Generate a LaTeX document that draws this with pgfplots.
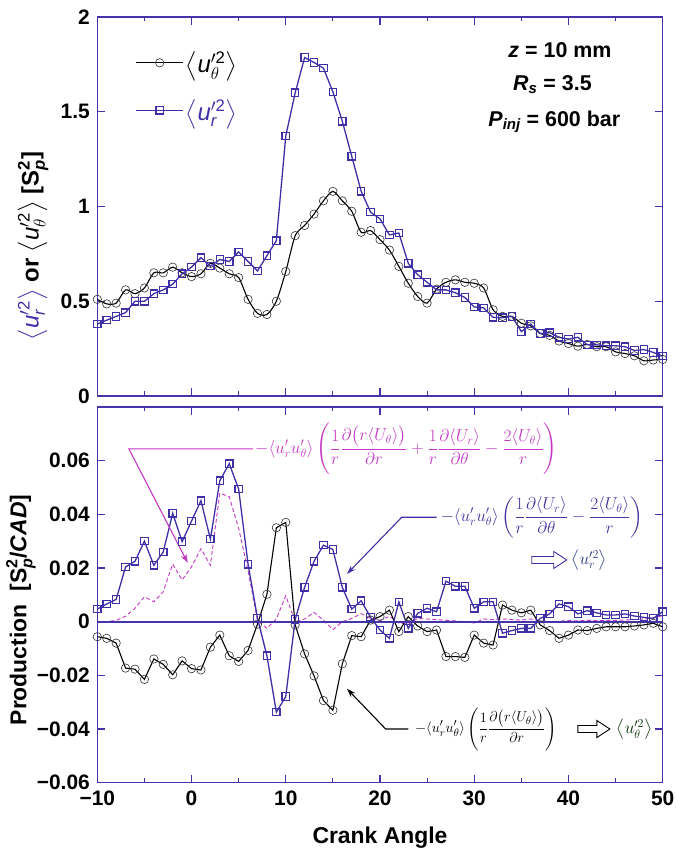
\documentclass[border=0pt]{standalone}
\usepackage{amsmath}
\usepackage[no-math]{fontspec}
\setmainfont{Liberation Sans}
\usepackage{pgfplots}
\usepackage{pgfplotstable}
\pgfplotsset{compat=1.18}
\usetikzlibrary{arrows.meta}
\definecolor{axblue}{RGB}{68,51,170}
\definecolor{sqblue}{RGB}{64,48,168}
\definecolor{mag}{RGB}{196,56,196}
\definecolor{fblue}{RGB}{70,50,160}
\definecolor{nblue}{RGB}{40,50,130}

\pgfplotstableread{
x th r
-10 0.51 0.38
-9 0.486 0.40
-8 0.49 0.42
-7 0.56 0.44
-6 0.54 0.50
-5 0.57 0.50
-4 0.65 0.54
-3 0.65 0.56
-2 0.68 0.59
-1 0.65 0.645
0 0.63 0.68
1 0.645 0.73
2 0.70 0.685
3 0.675 0.72
4 0.645 0.71
5 0.625 0.76
6 0.51 0.71
7 0.436 0.66
8 0.43 0.74
9 0.50 0.82
10 0.657 1.372
11 0.846 1.60
12 0.90 1.786
13 0.96 1.76
14 1.03 1.73
15 1.08 1.605
16 1.03 1.45
17 0.975 1.265
18 0.864 1.08
19 0.873 0.97
20 0.825 0.935
21 0.77 0.85
22 0.684 0.86
23 0.595 0.70
24 0.525 0.64
25 0.49 0.60
26 0.564 0.56
27 0.60 0.56
28 0.613 0.545
29 0.60 0.52
30 0.595 0.47
31 0.57 0.465
32 0.455 0.415
33 0.42 0.413
34 0.42 0.42
35 0.384 0.34
36 0.37 0.38
37 0.33 0.33
38 0.32 0.334
39 0.29 0.31
40 0.277 0.30
41 0.263 0.31
42 0.272 0.27
43 0.26 0.27
44 0.26 0.265
45 0.233 0.265
46 0.224 0.26
47 0.212 0.24
48 0.186 0.245
49 0.19 0.23
50 0.193 0.21
}\topdata

\pgfplotstableread{
x th r m
-10 -0.0056 0.0047 0
-9 -0.0062 0.0066 0
-8 -0.0080 0.0083 0.0005
-7 -0.0173 0.0204 0.002
-6 -0.0177 0.0225 0.005
-5 -0.0215 0.0300 0.0093
-4 -0.0139 0.0210 0.0074
-3 -0.0159 0.0260 0.0112
-2 -0.0198 0.0404 0.0215
-1 -0.0146 0.0298 0.0155
0 -0.0175 0.0375 0.0205
1 -0.0180 0.0451 0.0272
2 -0.0095 0.0308 0.0210
3 -0.0050 0.0525 0.0479
4 -0.0127 0.0589 0.0466
5 -0.0148 0.0494 0.0348
6 -0.0107 0.0214 0.0190
7 -0.0009 0.0013 0.0005
8 0.0102 -0.0127 -0.0025
9 0.0350 -0.0337 0.0010
10 0.0370 -0.0279 0.0097
11 -0.0012 0.0009 0.0000
12 -0.0120 0.0128 0.0010
13 -0.0202 0.0225 0.0035
14 -0.0294 0.0285 0.0005
15 -0.0330 0.0269 -0.0030
16 -0.0157 0.0128 0.0000
17 -0.0052 0.0047 0.0012
18 -0.0056 0.0078 0.0030
19 0.0006 0.0016 0.0012
20 0.0019 -0.0031 0.0005
21 0.0043 -0.0062 0.0020
22 -0.0037 0.0074 -0.0005
23 0.0019 -0.0025 -0.0010
24 -0.0016 0.0031 0.0012
25 -0.0037 0.0050 0.0010
26 -0.0031 0.0037 0.0008
27 -0.0130 0.0151 0.0005
28 -0.0130 0.0132 0.0003
29 -0.0133 0.0132 0.0000
30 -0.0050 0.0050 -0.0005
31 -0.0080 0.0074 0.0010
32 -0.0087 0.0074 0.0008
33 0.0062 -0.0043 0.0010
34 0.0043 -0.0033 0.0008
35 0.0033 -0.0025 0.0006
36 0.0043 -0.0025 0.0010
37 -0.0012 0.0012 0.0003
38 -0.0033 0.0029 0.0000
39 -0.0062 0.0066 0.0002
40 -0.0050 0.0056 0.0004
41 -0.0031 0.0029 0.0003
42 -0.0033 0.0041 0.0005
43 -0.0025 0.0033 0.0004
44 -0.0019 0.0025 0.0005
45 -0.0019 0.0025 0.0005
46 -0.0019 0.0029 0.0006
47 -0.0016 0.0021 0.0008
48 -0.0012 0.0016 0.0010
49 -0.0006 0.0012 0.0015
50 -0.0019 0.0037 0.0022
}\botdata

\pgfplotsset{
  myax/.style={
    scale only axis, width=565.4bp, xmin=-10, xmax=50, clip=false,
    axis line style={axblue, line width=1.3bp},
    tick style={axblue, line width=1.1bp},
    major tick length=8bp, minor tick length=4.5bp, tick align=inside,
    xtick={-10,0,...,50}, minor xtick={-5,5,...,45},
    scaled ticks=false,
    ticklabel style={font=\fontsize{21}{25}\selectfont\bfseries, text=black},
    yticklabel style={xshift=-4bp},
    xticklabel style={yshift=-5bp},
  },
  thser/.style={black, line width=1.1bp, mark=o, mark size=4.2bp, mark options={solid, line width=0.6bp, black!80}},
  rser/.style={sqblue, line width=1.3bp, mark=square, mark size=3.7bp, mark options={solid, line width=1.2bp}},
  legend image code/.code={\draw[mark repeat=2,mark phase=2,#1] plot coordinates {(0bp,0bp) (23.5bp,0bp) (47bp,0bp)};},
}
\newcommand{\su}{\text{\normalfont\itshape u}}
\newcommand{\fsz}{\fontsize{17}{20}\selectfont}

\begin{document}
\begin{tikzpicture}
\path[use as bounding box] (0,0) rectangle (676bp,855bp);

% top axis
\begin{axis}[myax, at={(97.3bp,459bp)}, anchor=south west, height=379bp,
  ymin=0, ymax=2, ytick={0,0.5,1,1.5,2}, yticklabels={0,0.5,1,1.5,2},
  xticklabels={},
  legend style={at={(rel axis cs:0.062,0.92)}, anchor=north west, draw=none, fill=none,
    font=\fontsize{24}{28}\selectfont, row sep=21bp, nodes={inner sep=2bp}},
  legend cell align=left]
\addplot[thser, smooth, tension=0.45] table[x=x,y=th]{\topdata};
\addlegendentry{$\left\langle \su'^{\text{\normalfont 2}}_{\theta}\right\rangle$}
\addplot[rser] table[x=x,y=r]{\topdata};
\addlegendentry{\color{sqblue}$\left\langle \su'^{\text{\normalfont 2}}_{\text{\normalfont\itshape r}}\right\rangle$}
\node[font=\fontsize{21.5}{26}\selectfont\bfseries] at (axis cs:39.1,1.826) {\textit{z} = 10 mm};
\node[font=\fontsize{21.5}{26}\selectfont\bfseries] at (axis cs:38.3,1.641) {\textit{R}$_{\text{\bfseries\itshape s}}$ = 3.5};
\node[font=\fontsize{21.5}{26}\selectfont\bfseries] at (axis cs:38.5,1.447) {\textit{P}$_{\text{\bfseries\itshape inj}}$ = 600 bar};
\end{axis}

% bottom axis
\begin{axis}[myax, at={(97.3bp,72.3bp)}, anchor=south west, height=375.7bp,
  ymin=-0.06, ymax=0.08, ytick={-0.06,-0.04,...,0.061},
  yticklabels={−0.06,−0.04,−0.02,0,0.02,0.04,0.06},
  xticklabels={−10,0,10,20,30,40,50}]
\addplot[mag, line width=0.9bp, dash pattern=on 4bp off 2.5bp] table[x=x,y=m]{\botdata};
\addplot[thser] table[x=x,y=th]{\botdata};
\addplot[rser] table[x=x,y=r]{\botdata};
\addplot[draw=axblue, line width=1.8bp, mark=none, forget plot] coordinates {(-10,0) (50,0)};
% magenta annotation
\draw[mag, line width=1.1bp, -{Stealth[length=9bp,width=6bp]}] (axis cs:6.52,0.0644) -- (axis cs:-6.65,0.0644) -- (axis cs:-0.4,0.0219);
\node[anchor=west, text=mag, inner sep=0pt, font=\fsz] at (axis cs:6.73,0.0644)
  {$\displaystyle -\langle u'_r u'_\theta\rangle\left(\frac{1}{r}\frac{\partial\bigl(r\langle U_\theta\rangle\bigr)}{\partial r}+\frac{1}{r}\frac{\partial\langle U_r\rangle}{\partial\theta}-\frac{2\langle U_\theta\rangle}{r}\right)$};
% blue annotation
\draw[sqblue, line width=1.1bp, -{Stealth[length=9bp,width=6bp]}] (axis cs:26.0,0.0389) -- (axis cs:22.3,0.0389) -- (axis cs:16.5,0.0178);
\node[anchor=west, text=fblue, inner sep=0pt, font=\fsz] at (axis cs:26.4,0.0389)
  {$\displaystyle -\langle u'_r u'_\theta\rangle\left(\frac{1}{r}\frac{\partial\langle U_r\rangle}{\partial\theta}-\frac{2\langle U_\theta\rangle}{r}\right)$};
\draw[sqblue, line width=0.9bp, fill=white] (axis cs:36.1,0.023) ++(0pt,-3.5bp) -- ++(22bp,0pt) -- ++(0pt,-5bp) -- ++(13bp,8.5bp) -- ++(-13bp,8.5bp) -- ++(0pt,-5bp) -- ++(-22bp,0pt) -- cycle;
\node[anchor=west, text=nblue, inner sep=0pt, font=\fsz] at (axis cs:40.3,0.023) {$\left\langle u'^{2}_{r}\right\rangle$};
% black annotation
\draw[black, line width=1.1bp, -{Stealth[length=9bp,width=6bp]}] (axis cs:23.0,-0.040) -- (axis cs:20.6,-0.040) -- (axis cs:16.5,-0.025);
\node[anchor=west, text=black, inner sep=0pt, font=\fontsize{15}{18}\selectfont] at (axis cs:23.7,-0.040)
  {$\displaystyle -\langle u'_r u'_\theta\rangle\left(\frac{1}{r}\frac{\partial\bigl(r\langle U_\theta\rangle\bigr)}{\partial r}\right)$};
\draw[black, line width=0.9bp, fill=white] (axis cs:41.0,-0.040) ++(0pt,-3.5bp) -- ++(19bp,0pt) -- ++(0pt,-5bp) -- ++(13bp,8.5bp) -- ++(-13bp,8.5bp) -- ++(0pt,-5bp) -- ++(-19bp,0pt) -- cycle;
\node[anchor=west, text=black!70!green!60!black, inner sep=0pt, font=\fsz] at (axis cs:45.1,-0.040) {$\left\langle u'^{2}_{\theta}\right\rangle$};
\end{axis}

% axis labels
\node[rotate=90, inner sep=0pt, font=\fontsize{24}{28}\selectfont\bfseries] at (33bp,609bp)
  {{\color{sqblue}$\left\langle \su'^{\text{\normalfont 2}}_{\text{\normalfont\itshape r}}\right\rangle$} or $\left\langle \su'^{\text{\normalfont 2}}_{\theta}\right\rangle$ [S$^{\text{2}}_{\text{\itshape p}}$]};
\node[rotate=90, inner sep=0pt, font=\fontsize{23}{27}\selectfont\bfseries] at (21bp,245bp)
  {Production\ \ [S$^{\text{2}}_{\text{\itshape p}}$/\textit{CAD}]};
\node[font=\fontsize{23}{27}\selectfont\bfseries] at (380bp,17bp) {Crank Angle};
\end{tikzpicture}
\end{document}
